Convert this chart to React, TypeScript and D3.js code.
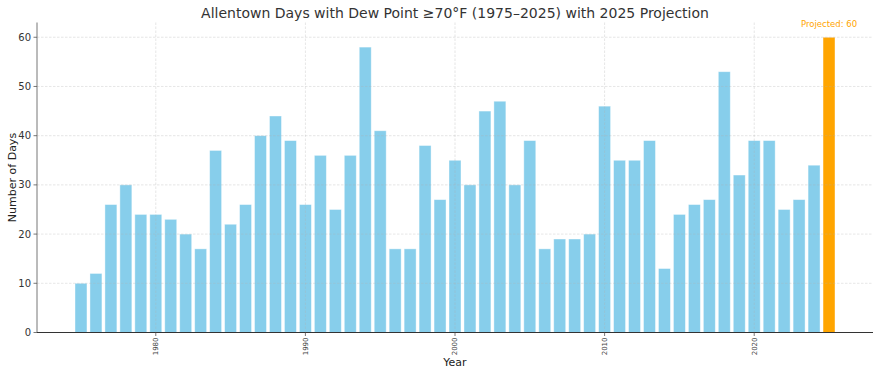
import React from 'react'
import * as d3 from 'd3'

// days per year with dew point >= 70F, last one is the 2025 projection
const years: number[] = [
  1975, 1976, 1977, 1978, 1979, 1980, 1981, 1982, 1983, 1984,
  1985, 1986, 1987, 1988, 1989, 1990, 1991, 1992, 1993, 1994,
  1995, 1996, 1997, 1998, 1999, 2000, 2001, 2002, 2003, 2004,
  2005, 2006, 2007, 2008, 2009, 2010, 2011, 2012, 2013, 2014,
  2015, 2016, 2017, 2018, 2019, 2020, 2021, 2022, 2023, 2024,
]
const days: number[] = [
  10, 12, 26, 30, 24, 24, 23, 20, 17, 37,
  22, 26, 40, 44, 39, 26, 36, 25, 36, 58,
  41, 17, 17, 38, 27, 35, 30, 45, 47, 30,
  39, 17, 19, 19, 20, 46, 35, 35, 39, 13,
  24, 26, 27, 53, 32, 39, 39, 25, 27, 34,
]
const projectedYear = 2025
const projectedDays = 60

const xTicks: number[] = [1980, 1990, 2000, 2010, 2020]
const yTicks: number[] = [0, 10, 20, 30, 40, 50, 60]

const W = 880
const H = 374
const margin = { top: 22, right: 7, bottom: 42, left: 37 }
const font = 'DejaVu Sans, sans-serif'

export default function App() {
  React.useEffect(() => {
    document.body.style.margin = '0'
  }, [])

  const innerW = W - margin.left - margin.right
  const innerH = H - margin.top - margin.bottom

  // matplotlib style autoscale: bar extents plus 5% padding
  const lo = years[0] - 0.4
  const hi = projectedYear + 0.4
  const pad = (hi - lo) * 0.05
  const x = d3.scaleLinear().domain([lo - pad, hi + pad]).range([0, innerW])
  const y = d3.scaleLinear().domain([0, projectedDays * 1.05]).range([innerH, 0])
  const bw = x(0.8) - x(0)

  return (
    <svg width={W} height={H} style={{ display: 'block', fontFamily: font }}>
      <text x={margin.left + innerW / 2} y={18} textAnchor="middle" fontSize={14} fill="#333">
        Allentown Days with Dew Point ≥70°F (1975–2025) with 2025 Projection
      </text>
      <g transform={`translate(${margin.left},${margin.top + 0.5})`}>
        {years.map((yr, i) => (
          <rect
            key={yr}
            x={x(yr) - bw / 2}
            y={y(days[i])}
            width={bw}
            height={innerH - y(days[i])}
            fill="#87CEEB"
            stroke="#fff"
            strokeOpacity={0.5}
            strokeWidth={0.8}
          />
        ))}
        <rect
          x={x(projectedYear) - bw / 2}
          y={y(projectedDays)}
          width={bw}
          height={innerH - y(projectedDays)}
          fill="#FFA500"
          stroke="#fff"
          strokeOpacity={0.5}
          strokeWidth={0.8}
        />
        <text
          x={x(projectedYear)}
          y={y(projectedDays) - 10}
          textAnchor="middle"
          fontSize={8.5}
          fill="#FFA500"
        >
          Projected: {projectedDays}
        </text>

        {/* grid on top, faint */}
        {yTicks.map((t) => (
          <line key={'gy' + t} x1={0} x2={innerW} y1={y(t)} y2={y(t)}
            stroke="#b0b0b0" strokeOpacity={0.45} strokeWidth={0.7} strokeDasharray="2.5,1.5" />
        ))}
        {xTicks.map((t) => (
          <line key={'gx' + t} x1={x(t)} x2={x(t)} y1={0} y2={innerH}
            stroke="#b0b0b0" strokeOpacity={0.45} strokeWidth={0.7} strokeDasharray="2.5,1.5" />
        ))}

        {/* axes */}
        <line x1={0} x2={0} y1={0} y2={innerH} stroke="#777" strokeWidth={1} />
        <line x1={0} x2={innerW} y1={innerH} y2={innerH} stroke="#333" strokeWidth={1} />
        {yTicks.map((t) => (
          <g key={'ty' + t}>
            <line x1={-3.5} x2={0} y1={y(t)} y2={y(t)} stroke="#555" strokeWidth={0.8} />
            <text x={-6} y={y(t)} dy="0.35em" textAnchor="end" fontSize={10} fill="#333">{t}</text>
          </g>
        ))}
        {xTicks.map((t) => (
          <g key={'tx' + t}>
            <line x1={x(t)} x2={x(t)} y1={innerH} y2={innerH + 3.5} stroke="#555" strokeWidth={0.8} />
            <text
              transform={`translate(${x(t)},${innerH + 5})` + ' rotate(-90)'}
              textAnchor="end"
              dy="0.35em"
              fontSize={7}
              fill="#444"
            >
              {t}
            </text>
          </g>
        ))}
        <text x={innerW / 2} y={innerH + 33.5} textAnchor="middle" fontSize={11} fill="#222">Year</text>
        <text
          transform={`translate(${-21},${innerH / 2}) rotate(-90)`}
          textAnchor="middle"
          fontSize={11}
          fill="#222"
        >
          Number of Days
        </text>
      </g>
    </svg>
  )
}
